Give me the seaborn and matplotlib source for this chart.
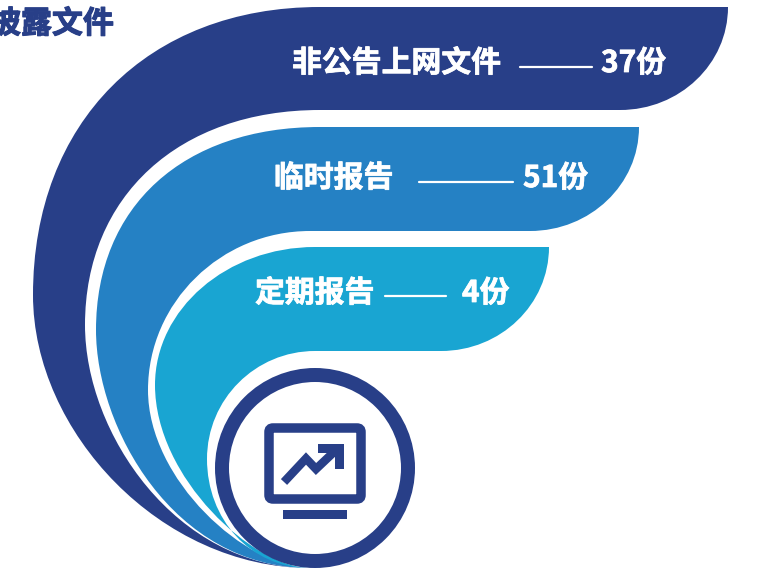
import numpy as np
import matplotlib
matplotlib.use("Agg")
import matplotlib.pyplot as plt
import matplotlib.patheffects as pe
from matplotlib.path import Path
from matplotlib.patches import PathPatch, Circle, FancyBboxPatch, Rectangle, Polygon
import seaborn as sns

title = "披露文件"
categories = ["非公告上网文件", "临时报告", "定期报告"]
counts = [37, 51, 4]
unit = "份"

sns.set_theme(style="white")
plt.rcParams['font.family'] = ['Noto Sans CJK SC', 'DejaVu Sans']
DARK, MID, LIGHT = "#283F88", "#2581C4", "#19A5D2"
palette = sns.color_palette([DARK, MID, LIGHT])

fig = plt.figure(figsize=(7.58, 5.70), dpi=100)
ax = fig.add_axes([0, 0, 1, 1])
ax.set_xlim(0, 758)
ax.set_ylim(570, 0)
ax.axis("off")

END = (310, 568)


def edge(top, left, k, a, b, end=END):
    """Control points of a left edge: top -> leftmost point -> end."""
    (xt, yt), (xl, yl) = top, left
    return [(xt - k * (xt - xl), yt), (xl, yl - k * (yl - yt)), (xl, yl),
            (xl, yl + a), (end[0] - b, end[1]), end]


def band(top, bottom, right, corner_left, outer, inner, color, z):
    """outer/inner = dict(top, left, k, a, b)."""
    kk = 0.5523
    rx, ry = right - corner_left, bottom - top
    oc, ic = edge(**outer), edge(**inner)
    v = [outer["top"], (right, top),
         (right, top + kk * ry), (corner_left + kk * rx, bottom), (corner_left, bottom),
         inner["top"]] + ic
    c = [Path.MOVETO, Path.LINETO] + [Path.CURVE4] * 3 + [Path.LINETO] + [Path.CURVE4] * len(ic)
    rev = ([outer["top"]] + oc)[::-1][1:]
    v += rev
    c += [Path.CURVE4] * len(rev)
    v += [outer["top"]]
    c += [Path.CLOSEPOLY]
    ax.add_patch(PathPatch(Path(v, c), fc=color, ec="none", lw=0, zorder=z))


band(7, 110, 728, 620,
     dict(top=(320, 7), left=(33, 295), k=0.60, a=137, b=149),
     dict(top=(320, 110), left=(85, 325), k=0.60, a=108, b=134),
     palette[0], 2)
band(127, 231, 639, 530,
     dict(top=(320, 127), left=(96, 330), k=0.61, a=97, b=137),
     dict(top=(310, 231), left=(148, 390), k=0.55, a=90, b=64),
     palette[1], 3)
band(247, 351, 549, 441,
     dict(top=(315, 247), left=(155, 385), k=0.55, a=93, b=56),
     dict(top=(315, 351), left=(207, 459), k=0.5523, a=60, b=60),
     palette[2], 4)

# ring and monitor icon
ax.add_patch(Circle((315, 468), 93, fc="white", ec=DARK, lw=14 * 0.72, zorder=5))
ax.add_patch(FancyBboxPatch((269, 428), 92, 71, boxstyle="round,pad=0,rounding_size=4",
                            fc="white", ec=DARK, lw=9.5 * 0.72, zorder=6))
ax.add_patch(Rectangle((283, 510), 64, 9, fc=DARK, ec="none", zorder=6))
ax.plot([284, 306, 316, 335], [482, 458.5, 469, 451], color=DARK, lw=8.5 * 0.72,
        solid_joinstyle="miter", solid_capstyle="butt", zorder=7)
ax.add_patch(Polygon([(318, 444), (344, 444), (344, 469), (335, 469), (335, 453), (318, 453)],
                     fc=DARK, ec="none", zorder=7))


def heavy(color, w=0.55):
    return [pe.withStroke(linewidth=w, foreground=color)]


# title
ax.text(114, 24, title, ha="right", va="center", fontsize=22.3, fontweight="bold",
        color=DARK, zorder=8, path_effects=heavy(DARK, 0.8))

# labels
name_x = [292, 274, 255]
text_y = [63, 178, 293]
line_spans = [(520, 592, 67), (419, 513, 182), (385, 446, 296)]
count_x = [601, 523, 462]
for name, n, nx, ty, (x0, x1, ly), cx in zip(categories, counts, name_x, text_y, line_spans, count_x):
    ax.text(nx, ty, name, ha="left", va="center", fontsize=21.5, fontweight="bold", color="white",
            zorder=8, path_effects=heavy("white"))
    sns.lineplot(x=[x0, x1], y=[ly, ly], color="white", lw=1.6, ax=ax, zorder=8)
    ax.text(cx, ty, f"{n}{unit}", ha="left", va="center", fontsize=21.5, fontweight="bold", color="white",
            zorder=8, path_effects=heavy("white"))

ax.set_xlim(0, 758)
ax.set_ylim(570, 0)
fig.savefig("out.png", dpi=100, facecolor="white")
